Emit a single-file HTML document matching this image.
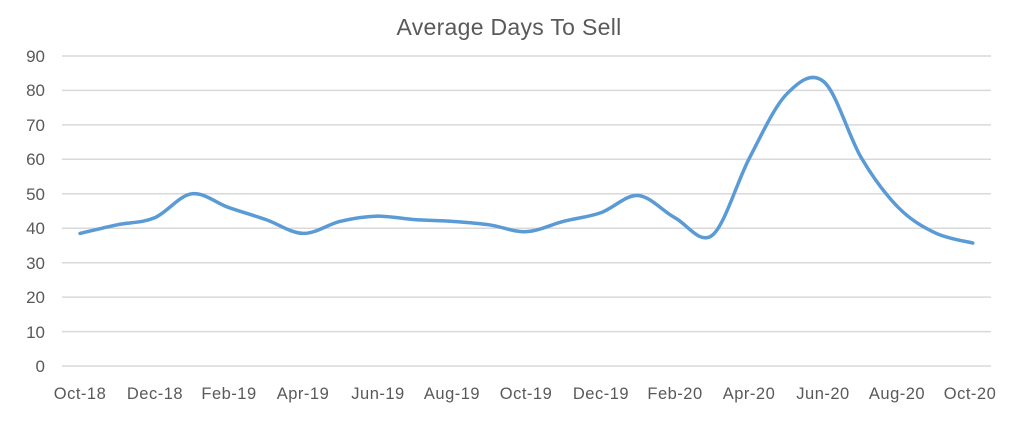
<!DOCTYPE html>
<html><head><style>
body{margin:0;background:#fff;width:1024px;height:428px;overflow:hidden}
text{font-family:"Liberation Sans",sans-serif;fill:#595959}
</style></head><body>
<svg width="1024" height="428" viewBox="0 0 1024 428">
<text x="509" y="35" font-size="23" text-anchor="middle" letter-spacing="0.3">Average Days To Sell</text>
<g stroke="#d9d9d9" stroke-width="1.5">
<line x1="62" x2="991" y1="56" y2="56"/><line x1="62" x2="991" y1="90.4" y2="90.4"/>
<line x1="62" x2="991" y1="124.9" y2="124.9"/><line x1="62" x2="991" y1="159.3" y2="159.3"/>
<line x1="62" x2="991" y1="193.8" y2="193.8"/><line x1="62" x2="991" y1="228.2" y2="228.2"/>
<line x1="62" x2="991" y1="262.7" y2="262.7"/><line x1="62" x2="991" y1="297.1" y2="297.1"/>
<line x1="62" x2="991" y1="331.6" y2="331.6"/><line x1="62" x2="991" y1="366" y2="366"/>
</g>
<g font-size="17" text-anchor="end">
<text x="45" y="62">90</text><text x="45" y="96">80</text><text x="45" y="131">70</text>
<text x="45" y="165">60</text><text x="45" y="200">50</text><text x="45" y="234">40</text>
<text x="45" y="269">30</text><text x="45" y="303">20</text><text x="45" y="338">10</text>
<text x="45" y="372">0</text>
</g>
<g font-size="16.5" text-anchor="middle" letter-spacing="0.5">
<text x="80" y="399">Oct-18</text><text x="155" y="399">Dec-18</text><text x="229" y="399">Feb-19</text>
<text x="303" y="399">Apr-19</text><text x="378" y="399">Jun-19</text><text x="452" y="399">Aug-19</text>
<text x="526" y="399">Oct-19</text><text x="601" y="399">Dec-19</text><text x="675" y="399">Feb-20</text>
<text x="749" y="399">Apr-20</text><text x="823" y="399">Jun-20</text><text x="897" y="399">Aug-20</text>
<text x="970" y="399">Oct-20</text>
</g>
<path id="p" fill="none" stroke="#5b9bd5" stroke-width="3.5" stroke-linecap="round" stroke-linejoin="round"/>
</svg>
<script>
var v=[38.5,41,43,50,46,42.5,38.5,42,43.5,42.5,42,41,39,42,44.5,49.5,43,38,60.5,79,82.5,60.5,46,38.6,35.7];
var pts=v.map(function(d,i){return [80+i*37.2,366-d*3.444];});
var s="M"+pts[0][0]+","+pts[0][1];
for(var i=0;i<pts.length-1;i++){
var p0=pts[i-1]||pts[i],p1=pts[i],p2=pts[i+1],p3=pts[i+2]||p2,t=6;
s+=" C"+(p1[0]+(p2[0]-p0[0])/t)+","+(p1[1]+(p2[1]-p0[1])/t)+" "+(p2[0]-(p3[0]-p1[0])/t)+","+(p2[1]-(p3[1]-p1[1])/t)+" "+p2[0]+","+p2[1];}
document.getElementById("p").setAttribute("d",s);
</script>
</body></html>
